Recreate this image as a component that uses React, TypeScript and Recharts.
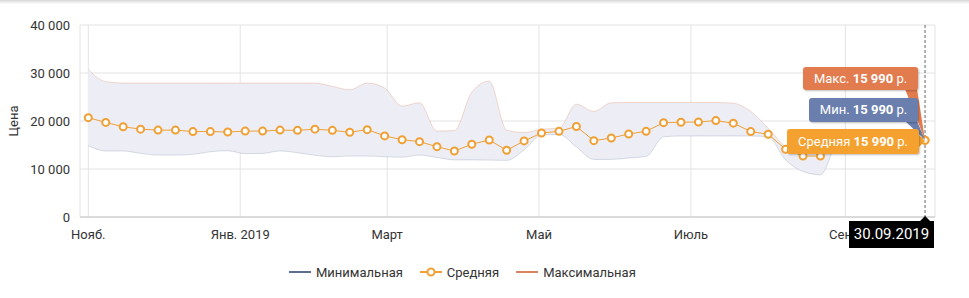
import React from "react";
import {
  ComposedChart,
  Area,
  Line,
  XAxis,
  YAxis,
  CartesianGrid,
  Tooltip,
  Legend,
} from "recharts";

// weekly points
const dates = [
  "2018-11-01", "2018-11-08", "2018-11-15", "2018-11-22", "2018-11-29",
  "2018-12-06", "2018-12-13", "2018-12-20", "2018-12-27", "2019-01-03",
  "2019-01-10", "2019-01-17", "2019-01-24", "2019-01-31", "2019-02-07",
  "2019-02-14", "2019-02-21", "2019-02-28", "2019-03-07", "2019-03-14",
  "2019-03-21", "2019-03-28", "2019-04-04", "2019-04-11", "2019-04-18",
  "2019-04-25", "2019-05-02", "2019-05-09", "2019-05-16", "2019-05-23",
  "2019-05-30", "2019-06-06", "2019-06-13", "2019-06-20", "2019-06-27",
  "2019-07-04", "2019-07-11", "2019-07-18", "2019-07-25", "2019-08-01",
  "2019-08-08", "2019-08-15", "2019-08-22", "2019-08-29", "2019-09-05",
  "2019-09-12", "2019-09-19", "2019-09-26", "2019-10-03",
];

const avgPrices = [
  20700, 19700, 18800, 18300, 18100, 18100, 17800, 17800, 17700, 17900,
  17900, 18100, 18050, 18300, 18050, 17650, 18200, 16900, 16100, 15700,
  14650, 13750, 15150, 16050, 13900, 15850, 17500, 17850, 18850, 15900,
  16450, 17300, 17850, 19650, 19750, 19800, 20080, 19550, 17800, 17250,
  14100, 12700, 12700, 17100, 17100, 16990, 16990, 15990, 15990,
];

const minPrices = [
  14850, 13750, 13750, 13260, 12900, 12900, 13050, 13600, 13800, 13200,
  13250, 13750, 13400, 12850, 12550, 12700, 12700, 12550, 12450, 12900,
  12400, 11900, 11900, 11850, 11800, 14000, 17100, 17200, 14600, 12000,
  12000, 12300, 12600, 16700, 16880, 16880, 16880, 16880, 16880, 16700,
  11900, 9500, 8800, 15500, 16500, 16400, 16400, 15900, 15990,
];

const maxPrices = [
  30700, 28200, 27900, 27900, 27900, 27900, 27900, 27900, 27900, 27900,
  27900, 27900, 27900, 27900, 27200, 26500, 27900, 26850, 23100, 23800,
  17900, 18000, 26000, 28300, 18100, 17600, 18300, 18500, 23500, 22000,
  23800, 23850, 23850, 23850, 23850, 23850, 23850, 23700, 22000, 18500,
  14700, 13600, 13900, 17200, 17200, 17100, 17100, 16100, 15990,
];

const monthTicks = [
  "2018-11-01", "2019-01-01", "2019-03-01", "2019-05-01", "2019-07-01", "2019-09-01",
];
const monthLabels = ["Нояб.", "Янв. 2019", "Март", "Май", "Июль", "Сент."];
const priceTicks = [0, 10000, 20000, 30000, 40000];
const activeDateLabel = "30.09.2019";

const COLORS = {
  avg: "#f0a035",
  min: "#5d6e90",
  max: "#d9845f",
  band: "#edeef5",
  grid: "#e3e3e3",
  axis: "#c4c4c4",
  text: "#333333",
  tipMax: "#e27c4f",
  tipMin: "#6b7fae",
  tipAvg: "#f4a12f",
};

const data = dates.map((d, i) => ({
  t: Date.parse(d),
  avg: avgPrices[i],
  min: minPrices[i],
  max: maxPrices[i],
  range: [minPrices[i], maxPrices[i]],
}));

const tickValues = monthTicks.map((d) => Date.parse(d));
const xDomain = [Date.parse("2018-10-28T16:00:00Z"), Date.parse("2019-10-07T00:00:00Z")];

const fmt = (v: number) => String(v).replace(/\B(?=(\d{3})+(?!\d))/g, " ");

function monthLabel(v: number) {
  const i = tickValues.indexOf(v);
  return i >= 0 ? monthLabels[i] : "";
}

function TipBox({
  left,
  top,
  width,
  height,
  bg,
  name,
  value,
}: {
  left: number;
  top: number;
  width: number;
  height: number;
  bg: string;
  name: string;
  value: number;
}) {
  return (
    <div
      style={{
        position: "absolute",
        left,
        top,
        width,
        height,
        background: bg,
        borderRadius: 3,
        boxShadow: "1px 1px 2px rgba(0,0,0,0.25)",
        color: "#fff",
        fontSize: 13,
        lineHeight: `${height}px`,
        textAlign: "center",
        whiteSpace: "nowrap",
      }}
    >
      {name} <b>{fmt(value)}</b> р.
    </div>
  );
}

function PriceTooltip(props: any) {
  const { active, payload, coordinate } = props;
  if (!active || !payload || !payload.length) return null;
  const row = payload[0].payload;
  const px = coordinate && typeof coordinate.x === "number" ? coordinate.x : 925;
  const py = 140;
  return (
    <div style={{ position: "relative", width: 969, height: 298, fontFamily: "Roboto, sans-serif" }}>
      <svg width={969} height={298} style={{ position: "absolute", left: 0, top: 0 }}>
        <polygon points={`${px - 20},89 ${px - 8},89 ${px},${py}`} fill={COLORS.tipMax} />
        <polygon points={`${px - 20},121 ${px - 8},121 ${px},${py}`} fill={COLORS.tipMin} />
        <polygon points={`${px - 6},135 ${px - 6},147 ${px},${py + 1}`} fill={COLORS.tipAvg} />
        <polygon points={`${px - 6},222 ${px + 6},222 ${px},216`} fill="#000" />
      </svg>
      <TipBox left={px - 122} top={67} width={115} height={23} bg={COLORS.tipMax} name="Макс." value={row.max} />
      <TipBox left={px - 116} top={98} width={109} height={24} bg={COLORS.tipMin} name="Мин." value={row.min} />
      <TipBox left={px - 138} top={129} width={132} height={25} bg={COLORS.tipAvg} name="Средняя" value={row.avg} />
      <div
        style={{
          position: "absolute",
          left: px - 76,
          top: 221,
          width: 85,
          height: 27,
          background: "#000",
          color: "#fff",
          fontSize: 15,
          lineHeight: "27px",
          textAlign: "center",
        }}
      >
        {activeDateLabel}
      </div>
    </div>
  );
}

function LegendIcon({ color, dot }: { color: string; dot?: boolean }) {
  return (
    <svg width={22} height={12} style={{ display: "block" }}>
      <line x1={0} y1={6} x2={22} y2={6} stroke={color} strokeWidth={2} />
      {dot && <circle cx={11} cy={6} r={3.5} stroke={color} strokeWidth={2} fill="#fff" />}
    </svg>
  );
}

function PriceLegend() {
  const items = [
    { name: "Минимальная", color: COLORS.min, dot: false },
    { name: "Средняя", color: COLORS.avg, dot: true },
    { name: "Максимальная", color: COLORS.max, dot: false },
  ];
  return (
    <div
      style={{
        display: "flex",
        alignItems: "center",
        height: 36,
        paddingLeft: 289,
        fontSize: 13,
        color: COLORS.text,
        fontFamily: "Roboto, sans-serif",
      }}
    >
      {items.map((it) => (
        <div key={it.name} style={{ display: "flex", alignItems: "center", marginRight: 17 }}>
          <LegendIcon color={it.color} dot={it.dot} />
          <span style={{ marginLeft: 5 }}>{it.name}</span>
        </div>
      ))}
    </div>
  );
}

export default function App() {
  return (
    <div
      style={{
        position: "absolute",
        left: 0,
        top: 0,
        width: 969,
        height: 298,
        background: "#fff",
        fontFamily: "Roboto, sans-serif",
        overflow: "hidden",
      }}
    >
      <div
        style={{
          position: "absolute",
          left: 0,
          top: 0,
          width: 969,
          height: 4,
          background: "linear-gradient(#d6d6d6, rgba(255,255,255,0))",
        }}
      />
      <ComposedChart
        width={969}
        height={298}
        data={data}
        margin={{ top: 25, right: 34, left: 8, bottom: 8 }}
      >
        <CartesianGrid stroke={COLORS.grid} vertical horizontal />
        <XAxis
          dataKey="t"
          type="number"
          domain={xDomain}
          ticks={tickValues}
          interval={0}
          tickFormatter={monthLabel}
          height={37}
          tickLine={false}
          tickSize={0}
          tickMargin={13}
          stroke={COLORS.axis}
          tick={{ fill: COLORS.text, fontSize: 13 }}
          allowDataOverflow
        />
        <YAxis
          domain={[0, 40000]}
          ticks={priceTicks}
          width={72}
          axisLine={false}
          tickLine={false}
          tickSize={0}
          tickMargin={10}
          tickFormatter={fmt}
          tick={{ fill: COLORS.text, fontSize: 13 }}
          label={{
            value: "Цена",
            angle: -90,
            position: "insideLeft",
            offset: 5,
            style: { textAnchor: "middle", fill: COLORS.text, fontSize: 13 },
          }}
        />
        <Tooltip
          active
          defaultIndex={48}
          position={{ x: 0, y: 0 }}
          content={<PriceTooltip />}
          cursor={{ stroke: "#666", strokeDasharray: "3 2", strokeWidth: 1 }}
          isAnimationActive={false}
          wrapperStyle={{ zIndex: 10 }}
        />
        <Legend
          verticalAlign="bottom"
          content={<PriceLegend />}
          wrapperStyle={{ left: 0, width: 969, height: 36, bottom: 8 }}
        />
        <Area
          type="monotone"
          dataKey="range"
          stroke="none"
          fill={COLORS.band}
          fillOpacity={1}
          isAnimationActive={false}
          activeDot={false}
          legendType="none"
        />
        <Line
          type="monotone"
          dataKey="max"
          name="Максимальная"
          stroke={COLORS.max}
          strokeOpacity={0.3}
          strokeWidth={1}
          dot={false}
          activeDot={false}
          isAnimationActive={false}
        />
        <Line
          type="monotone"
          dataKey="min"
          name="Минимальная"
          stroke={COLORS.min}
          strokeOpacity={0.22}
          strokeWidth={1}
          dot={false}
          activeDot={false}
          isAnimationActive={false}
        />
        <Line
          type="linear"
          dataKey="avg"
          name="Средняя"
          stroke={COLORS.avg}
          strokeWidth={1}
          dot={{ r: 3.5, stroke: COLORS.avg, strokeWidth: 2, fill: "#fff" }}
          activeDot={{ r: 3.5, stroke: COLORS.avg, strokeWidth: 2, fill: "#fff" }}
          isAnimationActive={false}
        />
      </ComposedChart>
    </div>
  );
}
